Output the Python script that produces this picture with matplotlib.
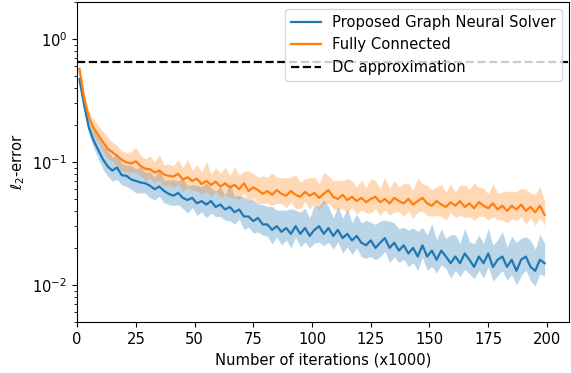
import numpy as np
import matplotlib
matplotlib.use("Agg")
import matplotlib.pyplot as plt

plt.rcParams["font.size"] = 10.6

# iterations (x1000), one point every 2k
iters = np.arange(1, 201, 2)

gns_mean = [
    0.47, 0.29, 0.19, 0.15, 0.125, 0.105, 0.092, 0.085, 0.090, 0.078,
    0.077, 0.072, 0.070, 0.068, 0.067, 0.064, 0.060, 0.063, 0.058, 0.055,
    0.053, 0.056, 0.051, 0.049, 0.051, 0.046, 0.048, 0.045, 0.048, 0.043,
    0.045, 0.041, 0.043, 0.039, 0.041, 0.036, 0.036, 0.033, 0.035, 0.031,
    0.031, 0.028, 0.030, 0.027, 0.029, 0.026, 0.030, 0.026, 0.029, 0.025,
    0.028, 0.030, 0.026, 0.029, 0.025, 0.028, 0.024, 0.026, 0.023, 0.025,
    0.022, 0.021, 0.023, 0.020, 0.022, 0.024, 0.020, 0.022, 0.019, 0.021,
    0.018, 0.020, 0.017, 0.021, 0.017, 0.019, 0.016, 0.019, 0.017, 0.015,
    0.017, 0.015, 0.018, 0.016, 0.014, 0.017, 0.015, 0.018, 0.014, 0.016,
    0.017, 0.014, 0.016, 0.013, 0.016, 0.017, 0.014, 0.013, 0.016, 0.015,
]
gns_up = [
    1.05, 1.08, 1.12, 1.2, 1.25, 1.3, 1.35, 1.28, 1.3, 1.25,
    1.22, 1.3, 1.25, 1.35, 1.22, 1.3, 1.25, 1.4, 1.22, 1.3,
    1.35, 1.25, 1.45, 1.3, 1.28, 1.4, 1.3, 1.5, 1.28, 1.35,
    1.4, 1.3, 1.55, 1.35, 1.3, 1.45, 1.35, 1.5, 1.3, 1.45,
    1.4, 1.55, 1.35, 1.5, 1.4, 1.6, 1.35, 1.5, 1.45, 1.4,
    1.6, 1.45, 1.9, 1.5, 1.4, 1.55, 1.45, 1.6, 1.4, 1.5,
    1.45, 1.6, 1.4, 1.55, 1.5, 1.4, 1.65, 1.45, 1.5, 1.4,
    1.55, 1.45, 1.6, 1.4, 1.5, 1.65, 1.45, 1.5, 1.4, 1.7,
    1.5, 1.45, 1.6, 1.4, 1.55, 1.5, 1.45, 1.6, 1.5, 1.45,
    1.6, 1.45, 1.55, 1.7, 1.5, 1.45, 1.65, 1.5, 1.6, 1.45,
]
gns_dn = [
    1.05, 1.08, 1.12, 1.15, 1.18, 1.2, 1.2, 1.22, 1.25, 1.2,
    1.22, 1.2, 1.25, 1.22, 1.2, 1.25, 1.22, 1.2, 1.25, 1.22,
    1.2, 1.25, 1.22, 1.28, 1.2, 1.25, 1.22, 1.28, 1.25, 1.2,
    1.25, 1.22, 1.3, 1.25, 1.2, 1.28, 1.22, 1.25, 1.3, 1.22,
    1.25, 1.3, 1.22, 1.28, 1.25, 1.3, 1.22, 1.28, 1.3, 1.25,
    1.28, 1.35, 1.25, 1.3, 1.28, 1.25, 1.32, 1.28, 1.3, 1.25,
    1.3, 1.28, 1.35, 1.25, 1.3, 1.28, 1.32, 1.3, 1.25, 1.3,
    1.28, 1.32, 1.3, 1.25, 1.3, 1.35, 1.28, 1.3, 1.25, 1.32,
    1.3, 1.28, 1.35, 1.3, 1.25, 1.3, 1.32, 1.28, 1.3, 1.35,
    1.3, 1.28, 1.32, 1.3, 1.35, 1.28, 1.3, 1.32, 1.3, 1.28,
]

fc_mean = [
    0.57, 0.33, 0.23, 0.19, 0.165, 0.145, 0.128, 0.120, 0.112, 0.104,
    0.099, 0.097, 0.101, 0.093, 0.088, 0.087, 0.082, 0.085, 0.079, 0.077,
    0.076, 0.080, 0.072, 0.075, 0.070, 0.073, 0.066, 0.070, 0.065, 0.069,
    0.063, 0.067, 0.062, 0.065, 0.060, 0.067, 0.058, 0.062, 0.059, 0.055,
    0.058, 0.054, 0.059, 0.055, 0.053, 0.058, 0.054, 0.052, 0.057, 0.053,
    0.056, 0.051, 0.055, 0.059, 0.052, 0.050, 0.054, 0.049, 0.052, 0.048,
    0.051, 0.047, 0.050, 0.052, 0.047, 0.050, 0.046, 0.051, 0.048, 0.046,
    0.050, 0.045, 0.048, 0.051, 0.046, 0.044, 0.048, 0.045, 0.043, 0.047,
    0.044, 0.048, 0.043, 0.046, 0.042, 0.047, 0.044, 0.042, 0.046, 0.041,
    0.044, 0.040, 0.044, 0.041, 0.045, 0.040, 0.043, 0.039, 0.044, 0.037,
]
fc_up = [
    1.05, 1.08, 1.12, 1.18, 1.2, 1.22, 1.25, 1.2, 1.22, 1.18,
    1.2, 1.25, 1.3, 1.22, 1.2, 1.28, 1.22, 1.35, 1.2, 1.25,
    1.22, 1.3, 1.25, 1.4, 1.22, 1.3, 1.25, 1.45, 1.22, 1.3,
    1.28, 1.35, 1.25, 1.4, 1.3, 1.25, 1.45, 1.3, 1.28, 1.4,
    1.3, 1.5, 1.28, 1.35, 1.4, 1.3, 1.45, 1.32, 1.28, 1.4,
    1.35, 1.3, 1.5, 1.3, 1.35, 1.42, 1.3, 1.5, 1.35, 1.3,
    1.4, 1.3, 1.45, 1.35, 1.3, 1.5, 1.32, 1.38, 1.3, 1.45,
    1.35, 1.3, 1.55, 1.3, 1.4, 1.35, 1.3, 1.45, 1.32, 1.4,
    1.3, 1.35, 1.5, 1.3, 1.6, 1.32, 1.4, 1.3, 1.45, 1.35,
    1.3, 1.45, 1.3, 1.4, 1.35, 1.5, 1.3, 1.4, 1.45, 1.3,
]
fc_dn = [
    1.05, 1.08, 1.1, 1.15, 1.15, 1.18, 1.2, 1.18, 1.2, 1.22,
    1.2, 1.18, 1.22, 1.2, 1.25, 1.18, 1.22, 1.2, 1.25, 1.18,
    1.22, 1.2, 1.25, 1.22, 1.18, 1.25, 1.2, 1.22, 1.25, 1.2,
    1.22, 1.25, 1.2, 1.28, 1.22, 1.2, 1.25, 1.22, 1.28, 1.2,
    1.25, 1.22, 1.28, 1.2, 1.25, 1.22, 1.3, 1.25, 1.2, 1.28,
    1.22, 1.25, 1.2, 1.28, 1.25, 1.22, 1.3, 1.25, 1.22, 1.28,
    1.25, 1.22, 1.3, 1.25, 1.28, 1.22, 1.25, 1.3, 1.22, 1.28,
    1.25, 1.3, 1.22, 1.28, 1.25, 1.22, 1.3, 1.25, 1.28, 1.22,
    1.25, 1.3, 1.22, 1.28, 1.25, 1.3, 1.22, 1.25, 1.28, 1.22,
    1.3, 1.25, 1.28, 1.22, 1.25, 1.3, 1.22, 1.28, 1.25, 1.22,
]

dc_error = 0.65

gns_mean = np.array(gns_mean)
fc_mean = np.array(fc_mean)

fig = plt.figure(figsize=(5.71, 3.73), dpi=100)
ax = fig.add_axes([0.135, 0.137, 0.862, 0.858])

ax.plot(iters, gns_mean, color="C0", lw=1.6, label="Proposed Graph Neural Solver")
ax.fill_between(iters, gns_mean / np.array(gns_dn), gns_mean * np.array(gns_up),
                color="C0", alpha=0.3, lw=0)
ax.plot(iters, fc_mean, color="C1", lw=1.6, label="Fully Connected")
ax.fill_between(iters, fc_mean / np.array(fc_dn), fc_mean * np.array(fc_up),
                color="C1", alpha=0.3, lw=0)
ax.axhline(dc_error, color="k", ls="--", lw=1.6, label="DC approximation")

ax.set_yscale("log")
ax.set_ylim(0.005, 2)
ax.set_xlim(0, 209.5)
ax.set_xticks([0, 25, 50, 75, 100, 125, 150, 175, 200])
ax.set_xlabel("Number of iterations (x1000)")
ax.set_ylabel(r"$\ell_2$-error")
ax.legend(loc="upper right")

fig.savefig("out.png", dpi=100)
